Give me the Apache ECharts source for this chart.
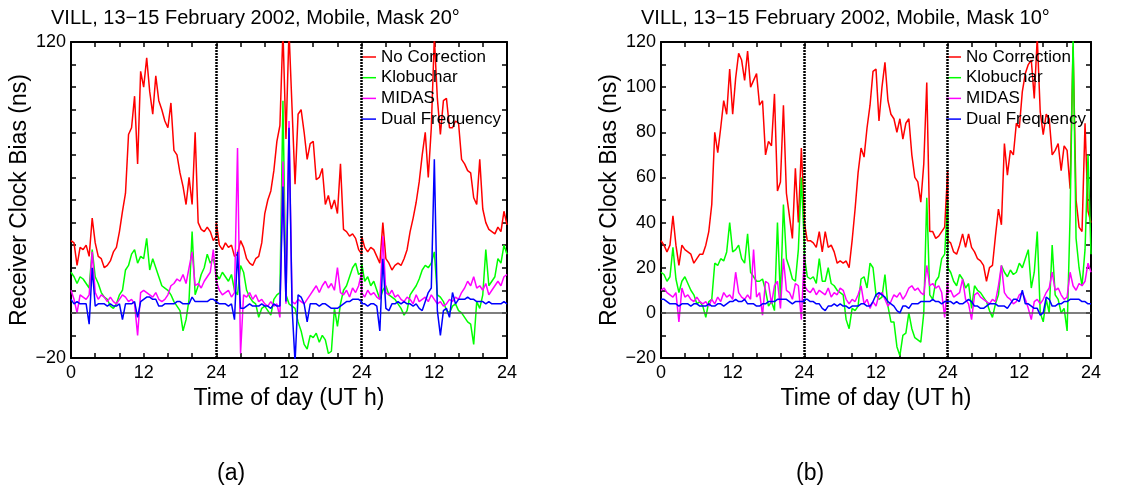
<!DOCTYPE html>
<html><head><meta charset="utf-8">
<script src="https://cdn.jsdelivr.net/npm/echarts@6/dist/echarts.min.js"></script>
<style>html,body{margin:0;padding:0;background:#fff}#c{width:1127px;height:492px}</style>
</head><body><div id="c"></div>
<script>
// sample times within one day (UT h)
const dayHours = [0,0.5,1,1.5,2,2.5,3,3.5,4,4.5,5,5.5,6,6.5,7,7.5,8,8.5,9,9.5,10,10.5,11,11.5,12,12.5,13,13.5,14,14.5,15,15.5,16,16.5,17,17.5,18,18.5,19,19.5,20,20.5,21,21.5,22,22.5,23,23.5,24];
const dayStarts = [0,24,48];
const seriesNames = ['No Correction','Klobuchar','MIDAS','Dual Frequency'];
const seriesColors = ['#ff0000','#00ff00','#ff00ff','#0000ff'];
const panelTitles = ['VILL, 13\u221215 February 2002, Mobile, Mask 20\u00b0','VILL, 13\u221215 February 2002, Mobile, Mask 10\u00b0'];
const panelLetters = ['(a)','(b)'];
const xAxisName = 'Time of day (UT h)';
const yAxisName = 'Receiver Clock Bias (ns)';

// Panel (a) Mask 20°, three days x 49 samples
const aNoCorrection = [
 32,31,21,29,28,30,25,42,31,25, 24,20,21,23,27,29,36,45,53,79, 82,96,66,107,100,113,98,88,105,94, 90,85,82,93,72,70,62,56,48,60, 48,80,40,37,36,38,36,32,34,
 40,30,28,31,29,30,25,26,32,29, 24,22,21,24,25,31,44,50,54,63, 76,83,125,77,125,91,57,88,90,80, 68,75,76,59,60,64,48,52,46,50, 44,66,37,36,34,35,33,28,26,
 34,29,27,29,28,25,22,40,24,22, 19,21,22,21,24,28,36,42,49,58, 70,80,60,82,122,95,79,94,95,82, 82,85,84,68,66,63,62,51,48,68, 46,40,37,36,35,38,36,45,39];
const aKlobuchar = [
 18,16,13,16,15,13,11,28,16,13, 9,7,6,3,2,4,8,10,19,21, 26,28,22,25,24,33,19,24,20,16, 12,11,10,8,5,3,1,-8,-3,6, 36,8,12,17,20,26,22,24,18,
 17,15,18,16,14,17,10,8,21,18, 10,7,5,4,-2,2,3,1,-1,6, 8,9,94,8,4,3,2,-4,-8,-14, -16,-10,-11,-9,-13,-10,-12,-18,-17,2, -6,4,10,12,16,20,22,17,18,
 22,14,16,12,14,10,6,10,12,8, 7,6,4,2,-1,1,8,10,12,15, 19,21,20,22,27,8,7,5,1,0, 3,4,1,0,-2,-4,-5,-14,5,2, 8,28,12,14,16,24,22,30,26];
const aMidas = [
 10,6,0,8,7,6,8,27,9,6, 8,7,5,7,5,4,6,8,7,5, 6,4,-10,9,10,9,8,7,9,6, 5,6,8,12,13,15,14,17,13,20, 27,12,13,11,14,16,18,28,14,
 14,10,8,9,10,7,9,73,-18,8, 7,9,6,8,5,6,4,3,5,3, 4,-2,67,4,85,5,4,6,5,4, 6,8,10,12,9,12,14,11,13,10, 20,9,8,10,7,11,9,12,18,
 9,7,10,8,9,7,6,34,9,8, 10,7,8,6,5,7,6,4,8,5, 6,7,5,8,6,4,5,3,4,6, 5,7,6,9,11,14,12,16,11,12, 10,13,8,10,12,14,12,16,17];
const aDual = [
 6,4,5,4,4,4,-5,20,3,4, 4,4,3,4,3,3,4,-3,4,4, 4,5,-2,5,6,7,7,6,6,3, 3,4,4,4,4,5,5,4,4,4, 7,5,5,5,5,5,6,6,5,
 5,4,4,4,3,4,-3,27,2,2, 3,4,3,3,3,4,3,3,2,4, 3,3,56,5,82,3,-22,8,7,4, -4,4,4,4,3,4,4,3,2,2, 2,3,4,5,5,6,6,6,5,
 4,4,3,4,4,3,-8,24,2,1, 4,4,5,4,5,4,4,3,4,2, 1,5,9,11,68,1,-10,1,2,-2, 9,4,6,6,6,7,6,6,5,5, 5,4,5,4,4,4,4,5,4];

// Panel (b) Mask 10°
const bNoCorrection = [
 32,30,27,30,43,30,21,30,28,27, 26,22,24,26,26,30,36,48,80,71, 82,94,88,108,88,104,115,112,103,116, 100,103,106,92,94,70,76,74,97,54, 58,92,53,43,33,64,40,73,42,
 40,32,32,31,29,36,27,36,29,30, 27,22,23,22,23,20,32,46,62,73, 69,82,92,107,108,85,100,111,94,88, 86,80,86,77,84,86,70,60,58,49, 66,102,36,36,33,34,36,38,63,
 32,31,27,26,30,35,29,35,29,27, 24,23,21,14,20,21,34,46,39,75, 61,72,70,84,82,98,106,110,112,95, 122,89,79,88,86,70,72,75,63,74, 72,55,118,50,38,36,84,45,40];
const bKlobuchar = [
 18,17,14,16,29,15,9,14,16,13, 10,8,4,5,3,-2,5,6,22,21, 24,23,27,40,27,28,30,24,22,35, 18,16,14,14,15,10,3,5,1,40, 6,48,24,20,15,14,28,60,30,
 25,16,15,16,13,24,14,14,20,13, 12,10,9,8,-3,-7,2,1,3,15, 16,11,22,20,8,6,7,17,3,-4, -4,-15,-19,-10,-9,0,-7,-11,-12,-13, 0,51,8,6,14,16,24,26,50,
 20,18,14,12,17,15,11,13,2,12, 10,9,7,5,1,-2,4,8,21,18, 16,19,17,18,22,20,24,28,11,18, 36,0,-4,6,0,30,8,6,0,2, -8,43,122,33,20,12,28,70,26];
const bMidas = [
 10,11,9,8,7,9,-4,11,7,8, 6,5,7,5,4,5,3,6,4,7, 5,9,7,8,6,18,9,7,6,8, 6,28,7,9,-1,14,13,4,12,14, 2,24,10,9,6,13,12,-3,26,
 12,10,9,11,8,10,9,8,11,7, 9,8,11,10,6,4,6,5,8,12, 4,6,2,5,3,8,9,6,3,5, 8,7,9,6,8,11,12,10,11,9, 8,21,12,13,11,12,9,-2,14,
 9,10,7,8,9,15,6,4,-3,8, 9,7,6,5,4,6,5,12,21,9, 7,6,4,5,8,9,6,2,-3,5, 6,4,6,9,11,18,10,11,8,6, 7,18,12,10,13,12,14,22,18];
const bDual = [
 6,6,5,4,4,4,3,4,4,4, 3,4,4,3,3,3,4,3,3,4, 4,3,4,5,5,6,5,5,6,4, 4,4,3,3,4,4,5,5,5,6, 6,6,6,5,4,5,5,5,5,
 6,6,5,5,4,4,2,1,3,3, 4,3,4,3,3,2,3,3,3,4, 4,3,3,5,8,9,8,7,5,4, 3,1,0,3,3,2,4,4,4,5, 5,5,5,6,5,5,4,5,5,
 5,5,4,5,4,4,5,6,5,3, 3,2,2,3,4,4,4,3,3,3, 2,4,6,6,5,10,4,4,3,2, 2,-1,0,7,6,3,3,4,4,5, 5,6,6,6,6,5,5,4,4];

const panels = [
  {values:[aNoCorrection,aKlobuchar,aMidas,aDual], left:71, width:436, yLabel:v => (v===120||v===-20)},
  {values:[bNoCorrection,bKlobuchar,bMidas,bDual], left:661, width:430, yLabel:v => v%20===0}
];
const titleLefts = [51, 641];
const letterLefts = [217, 796];
const legendLefts = [361, 946];

function toPairs(arr){
  const out = [];
  dayStarts.forEach((s,d) => dayHours.forEach((h,i) => out.push([s+h, arr[d*dayHours.length+i]])));
  return out;
}
const FONT = 'Liberation Sans, Arial, sans-serif';
const grid=[], xAxis=[], yAxis=[], series=[], legend=[], title=[];
panels.forEach((p,k) => {
  grid.push({left:p.left, top:42, width:p.width, height:316, containLabel:false});
  const axLine = {show:true, onZero:false, lineStyle:{color:'#000', width:2}};
  const tick = {show:true, inside:true, length:5, lineStyle:{color:'#000', width:1.5}};
  xAxis.push({type:'value', gridIndex:k, min:0, max:72, interval:4, position:'bottom',
    axisLine:axLine, axisTick:tick, splitLine:{show:false},
    axisLabel:{show:true, showMinLabel:true, showMaxLabel:true, color:'#000', fontSize:18, fontFamily:FONT, margin:6,
      formatter:v => v%12!==0 ? '' : (v===0 ? '0' : (v%24===0 ? '24' : '12'))},
    name:xAxisName, nameLocation:'middle', nameGap:21, nameTextStyle:{color:'#000', fontSize:23, fontFamily:FONT}});
  xAxis.push({type:'value', gridIndex:k, min:0, max:72, interval:4, position:'top',
    axisLine:axLine, axisTick:tick, axisLabel:{show:false}, splitLine:{show:false}});
  yAxis.push({type:'value', gridIndex:k, min:-20, max:120, interval:10, position:'left',
    axisLine:axLine, axisTick:tick, splitLine:{show:false},
    axisLabel:{show:true, showMinLabel:true, showMaxLabel:true, color:'#000', fontSize:18, fontFamily:FONT, margin:5,
      formatter:v => p.yLabel(v) ? String(v).replace('-','\u2212') : ''},
    name:yAxisName, nameLocation:'middle', nameGap:36, nameTextStyle:{color:'#000', fontSize:23, fontFamily:FONT}});
  yAxis.push({type:'value', gridIndex:k, min:-20, max:120, interval:10, position:'right',
    axisLine:axLine, axisTick:tick, axisLabel:{show:false}, splitLine:{show:false}});
  p.values.forEach((vals,j) => {
    const s = {type:'line', name:seriesNames[j], xAxisIndex:2*k, yAxisIndex:2*k, data:toPairs(vals),
      symbol:'none', showSymbol:false, clip:true, color:seriesColors[j],
      lineStyle:{color:seriesColors[j], width:1.5}, emphasis:{disabled:true}, z:2+j};
    if (j===3) {
      s.markLine = {silent:true, symbol:['none','none'], label:{show:false}, animation:false,
        data:[
          {yAxis:0, lineStyle:{type:'solid', color:'#555', width:1.5}},
          {xAxis:24, lineStyle:{type:[2,1], color:'#000', width:2.5}},
          {xAxis:48, lineStyle:{type:[2,1], color:'#000', width:2.5}}
        ]};
    }
    series.push(s);
  });
  legend.push({show:true, orient:'vertical', left:legendLefts[k], top:47.5, padding:0,
    icon:'rect', itemWidth:15, itemHeight:1.5, itemGap:1.7, selectedMode:false,
    data:seriesNames, textStyle:{color:'#000', fontSize:17, lineHeight:19, fontFamily:FONT}});
  title.push({text:panelTitles[k], left:titleLefts[k], top:8, padding:0,
    textStyle:{color:'#000', fontSize:20, fontWeight:'normal', fontFamily:FONT}});
  title.push({text:panelLetters[k], left:letterLefts[k], top:462, padding:0,
    textStyle:{color:'#000', fontSize:23, fontWeight:'normal', fontFamily:FONT}});
});

const chart = echarts.init(document.getElementById('c'), null, {renderer:'canvas'});
chart.setOption({animation:false, backgroundColor:'#fff', textStyle:{fontFamily:FONT},
  title, legend, grid, xAxis, yAxis, series});
</script></body></html>
